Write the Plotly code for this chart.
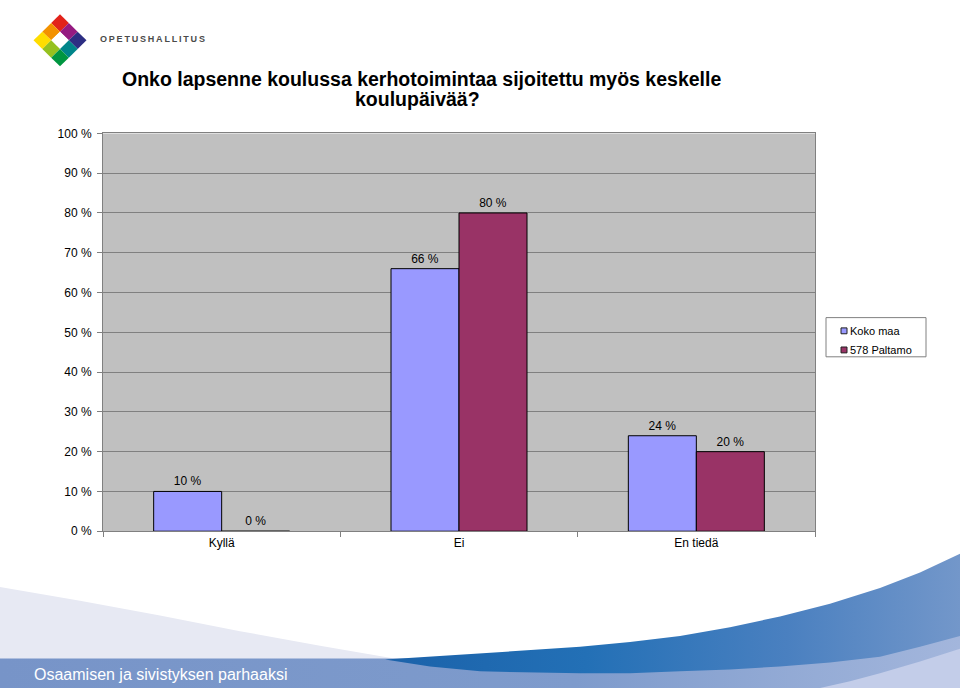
import plotly.graph_objects as go

# ---------------- data ----------------
categories = ["Kyllä", "Ei", "En tiedä"]
koko_maa = [10, 66, 24]
paltamo = [0, 80, 20]
series_names = ["Koko maa", "578 Paltamo"]
title_line1 = "Onko lapsenne koulussa kerhotoimintaa sijoitettu myös keskelle"
title_line2 = "koulupäivää?"
y_ticks = [0, 10, 20, 30, 40, 50, 60, 70, 80, 90, 100]

W, H = 960, 695
FONT = "Liberation Sans, Arial, sans-serif"
BLUE = "#9999FF"
RED = "#993366"

# plot-area pixel box
PL, PR, PT, PB = 103, 815, 129, 535

fig = go.Figure()

fig.add_trace(go.Bar(
    x=categories, y=koko_maa, name=series_names[0],
    marker=dict(color=BLUE, line=dict(color="black", width=1)),
    text=[f"{v} %" for v in koko_maa], textposition="outside",
    textfont=dict(size=12, color="black", family=FONT),
    cliponaxis=False, showlegend=False, xaxis="x", yaxis="y",
))
fig.add_trace(go.Bar(
    x=categories, y=paltamo, name=series_names[1],
    marker=dict(color=RED, line=dict(color="black", width=1)),
    text=[f"{v} %" for v in paltamo], textposition="outside",
    textfont=dict(size=12, color="black", family=FONT),
    cliponaxis=False, showlegend=False, xaxis="x", yaxis="y",
))

# ---------------- decorative background (pixel overlay axes) ----------------
def poly(pts, **kw):
    xs = [p[0] for p in pts] + [pts[0][0]]
    ys = [p[1] for p in pts] + [pts[0][1]]
    fig.add_trace(go.Scatter(x=xs, y=ys, mode="lines", fill="toself",
                             line=dict(width=0), hoverinfo="skip",
                             showlegend=False, xaxis="x2", yaxis="y2", **kw))

# light lavender sweep on the left
poly([(0, 592), (80, 606), (160, 621), (240, 637), (320, 652), (400, 666), (0, 666)],
     fillcolor="#E7E9F3")
# medium blue band
poly([(0, 665), (700, 665), (880, 658), (960, 636), (960, 695), (0, 695)],
     fillgradient=dict(type="horizontal",
                       colorscale=[[0, "#7794C8"], [0.6, "#7E9BCC"], [1, "#A3B6DC"]]))
# lightest bottom-right region
poly([(960, 655), (920, 668), (880, 680), (850, 688), (820, 695), (960, 695)],
     fillcolor="#C3CDE9")
# dark blue wave
poly([(385, 666), (430, 663), (480, 660), (530, 657), (580, 653), (630, 648), (680, 642),
      (730, 633), (780, 622), (830, 609), (880, 593), (920, 577), (960, 558),
      (960, 642), (920, 653), (880, 663), (830, 669), (780, 673), (730, 676), (680, 678),
      (630, 680), (580, 680), (530, 679), (480, 678), (430, 673)],
     fillgradient=dict(type="horizontal",
                       colorscale=[[0, "#1B62AA"], [0.35, "#2370B6"], [0.7, "#4A80C0"], [1, "#7397CA"]]))

shapes = []
# plot area background
shapes.append(dict(type="rect", xref="x domain", yref="y domain", x0=0, x1=1, y0=0, y1=1,
                   fillcolor="#C0C0C0", line=dict(width=0), layer="below"))

# logo: rotated 3x3 grid
cx, cy, R = 60, 34, 26.5
logo_colors = {
    (0, 0): "#E2231A", (1, 0): "#951B81", (2, 0): "#2D2E83",
    (0, 1): "#F39200", (1, 1): "#FFFFFF", (2, 1): "#00858A",
    (0, 2): "#FFDD00", (1, 2): "#95C11F", (2, 2): "#009640",
}
def P(a, b):
    return (cx + (a - b) * R / 3, cy - R + (a + b) * R / 3)
for (a, b), col in logo_colors.items():
    pts = [P(a, b), P(a + 1, b), P(a + 1, b + 1), P(a, b + 1)]
    path = "M" + " L".join(f"{x:.2f},{y:.2f}" for x, y in pts) + " Z"
    shapes.append(dict(type="path", xref="x2", yref="y2", path=path,
                       fillcolor=col, line=dict(width=0), layer="above"))

# legend box (manual)
LX0, LX1, LY0, LY1 = 826, 926, 317, 357
shapes.append(dict(type="rect", xref="x2", yref="y2", x0=LX0, x1=LX1, y0=LY0, y1=LY1,
                   fillcolor="white", line=dict(color="#808080", width=1), layer="above"))
leg_colors = [BLUE, RED]
leg_y = [330.5, 350]
for col, yy in zip(leg_colors, leg_y):
    shapes.append(dict(type="rect", xref="x2", yref="y2", x0=841, x1=847, y0=yy - 3, y1=yy + 3,
                       fillcolor=col, line=dict(color="#202020", width=1), layer="above"))

annotations = []
for name, yy in zip(series_names, leg_y):
    annotations.append(dict(xref="x2", yref="y2", x=848, y=yy, text=name, showarrow=False,
                            xanchor="left", yanchor="middle",
                            font=dict(size=11, color="black", family=FONT)))

# title (two centred lines)
annotations.append(dict(xref="x2", yref="y2", x=421, y=73, text=f"<b>{title_line1}</b>",
                        showarrow=False, xanchor="center", yanchor="middle",
                        font=dict(size=19.5, color="black", family=FONT)))
annotations.append(dict(xref="x2", yref="y2", x=417, y=94, text=f"<b>{title_line2}</b>",
                        showarrow=False, xanchor="center", yanchor="middle",
                        font=dict(size=19.5, color="black", family=FONT)))
# logo text
annotations.append(dict(xref="x2", yref="y2", x=98, y=32.5, text="<b>" + "\u2009".join("OPETUSHALLITUS") + "</b>",
                        showarrow=False, xanchor="left", yanchor="middle",
                        font=dict(size=9, color="#4A4A4A", family=FONT)))
# footer text
annotations.append(dict(xref="x2", yref="y2", x=32, y=681, text="Osaamisen ja sivistyksen parhaaksi",
                        showarrow=False, xanchor="left", yanchor="middle",
                        font=dict(size=16, color="white", family=FONT)))

fig.update_layout(
    width=W, height=H,
    margin=dict(l=0, r=0, t=0, b=0),
    paper_bgcolor="white",
    plot_bgcolor="rgba(0,0,0,0)",
    barmode="group",
    bargap=0.427,
    bargroupgap=0,
    showlegend=False,
    font=dict(family=FONT, size=12, color="black"),
    xaxis=dict(
        domain=[PL / W, PR / W], anchor="y", type="category",
        range=[-0.5, 2.5], showline=True, linecolor="#808080", linewidth=1, mirror=True,
        ticks="outside", tickson="boundaries", ticklen=5, tickcolor="#808080",
        tickfont=dict(size=12, color="black", family=FONT), showgrid=False, fixedrange=True,
    ),
    yaxis=dict(
        domain=[(H - PB) / H, (H - PT) / H], anchor="x",
        range=[0, 100], tickvals=y_ticks, ticktext=[f"{t} %" for t in y_ticks],
        showline=True, linecolor="#808080", linewidth=1, mirror=True,
        ticks="outside", ticklen=5, tickcolor="#808080", ticklabelstandoff=3,
        showgrid=True, gridcolor="#808080", gridwidth=1, zeroline=False,
        tickfont=dict(size=12, color="black", family=FONT), fixedrange=True,
    ),
    xaxis2=dict(domain=[0, 1], anchor="y2", range=[0, W], visible=False, fixedrange=True),
    yaxis2=dict(domain=[0, 1], anchor="x2", range=[H, 0], visible=False, fixedrange=True),
    shapes=shapes,
    annotations=annotations,
)

fig.write_html("out.html")
